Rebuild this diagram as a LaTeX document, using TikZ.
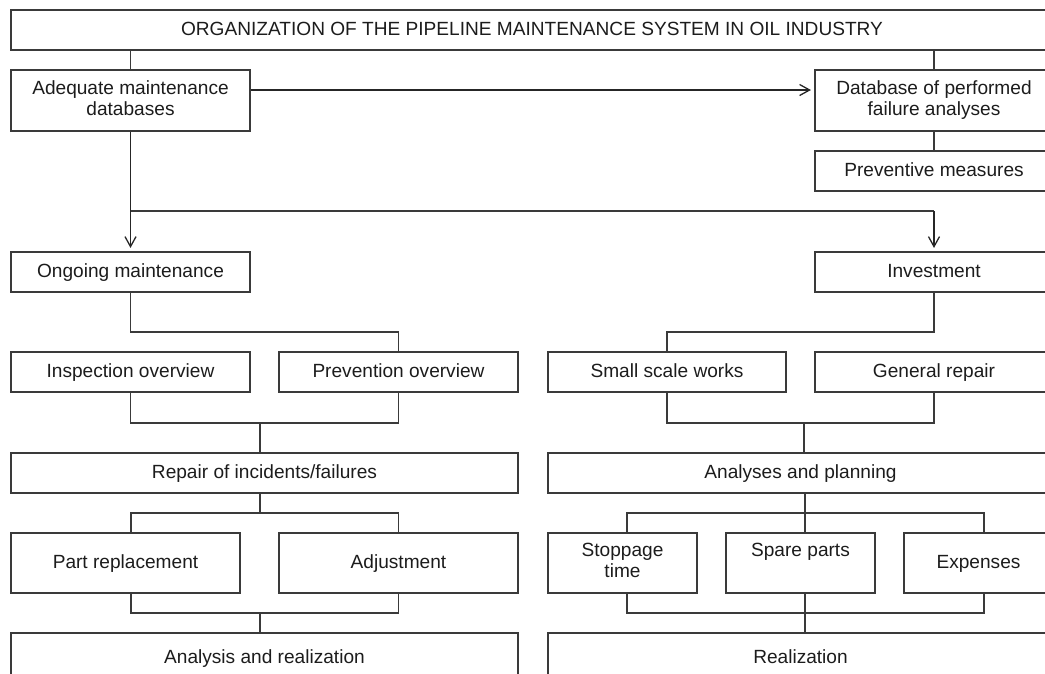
\documentclass[tikz,border=0pt]{standalone}
\usepackage{fontspec}
\setmainfont{Liberation Sans}
\usetikzlibrary{arrows.meta}
\definecolor{linegray}{HTML}{3A3A3A}
\definecolor{txt}{HTML}{1C1C1C}
\newcommand\mystrut{\rule[-5pt]{0pt}{20pt}}
\newcommand\boxfont{\fontsize{19.1}{21}\selectfont\setlength\lineskiplimit{-40pt}\setlength\lineskip{0pt}}
\tikzset{
  box/.style={draw=linegray, line width=1.1pt, rectangle, inner sep=2pt, align=center,
    text=txt, font=\boxfont, execute at begin node=\mystrut},
  conn/.style={draw=linegray, line width=1.1pt},
  arr/.style={draw=black!85, line width=1.3pt, shorten >=3.5pt,
    -{Straight Barb[length=10pt,width=11pt,line width=1.3pt]}}
}
\begin{document}
\begin{tikzpicture}[x=1pt,y=-1pt]
\useasboundingbox (0,0) rectangle (1045,673);
\clip (0,0) rectangle (1045,673);
% boxes
\node[box, minimum width=1042pt, minimum height=40pt] (title) at (532,30) {ORGANIZATION OF THE PIPELINE MAINTENANCE SYSTEM IN OIL INDUSTRY};
\node[box, minimum width=239pt, minimum height=61pt] (adb) at (130.5,100.5) {Adequate maintenance\\\mystrut databases};
\node[box, minimum width=238pt, minimum height=61pt] (dbf) at (934,100.5) {Database of performed\\\mystrut failure analyses};
\node[box, minimum width=238pt, minimum height=40pt] (prev) at (934,171) {Preventive measures};
\node[box, minimum width=239pt, minimum height=40pt] (ong) at (130.5,272) {Ongoing maintenance};
\node[box, minimum width=238pt, minimum height=40pt] (inv) at (934,272) {Investment};
\node[box, minimum width=239pt, minimum height=40pt] (insp) at (130.5,372) {Inspection overview};
\node[box, minimum width=239pt, minimum height=40pt] (preo) at (398.5,372) {Prevention overview};
\node[box, minimum width=238pt, minimum height=40pt] (ssw) at (667,372) {Small scale works};
\node[box, minimum width=238pt, minimum height=40pt] (gen) at (934,372) {General repair};
\node[box, minimum width=507pt, minimum height=40pt] (rep) at (264.5,473) {Repair of incidents/failures};
\node[box, minimum width=505pt, minimum height=40pt] (ana) at (800.5,473) {Analyses and planning};
\node[box, minimum width=229pt, minimum height=60pt] (part) at (125.5,563) {Part replacement};
\node[box, minimum width=239pt, minimum height=60pt] (adj) at (398.5,563) {Adjustment};
\node[box, minimum width=149pt, minimum height=60pt] (stop) at (622.5,563) {Stoppage\\\mystrut time};
\node[box, minimum width=149pt, minimum height=60pt] (spare) at (800.5,563) {Spare parts\\\mystrut};
\node[box, minimum width=149pt, minimum height=60pt] (exp) at (978.5,563) {Expenses};
\node[box, minimum width=507pt, minimum height=50pt] (ar) at (264.5,658) {Analysis and realization};
\node[box, minimum width=505pt, minimum height=50pt] (real) at (800.5,658) {Realization};
% connectors
\draw[conn] (adb.north) -- (adb.north |- title.south);
\draw[conn] (dbf.north) -- (dbf.north |- title.south);
\draw[arr] (adb.east |- 0,90) -- (dbf.west |- 0,90);
\draw[conn] (dbf.south) -- (prev.north);
\draw[arr] (adb.south) -- (ong.north);
\draw[conn] (adb.south |- 0,211) -- (inv.north |- 0,211);
\draw[arr] (inv.north |- 0,211) -- (inv.north);
% ongoing branch
\draw[conn] (ong.south) -- (ong.south |- 0,332) -- (preo.north |- 0,332) -- (preo.north);
\draw[conn] (insp.south) -- (insp.south |- 0,423) -- (preo.south |- 0,423) -- (preo.south);
\draw[conn] (rep.north -| 260,0) -- (260,423);
\draw[conn] (rep.south -| 260,0) -- (260,513);
\draw[conn] (part.north -| 131,0) -- (131,513) -- (adj.north |- 0,513) -- (adj.north);
\draw[conn] (part.south -| 131,0) -- (131,613) -- (adj.south |- 0,613) -- (adj.south);
\draw[conn] (ar.north -| 260,0) -- (260,613);
% investment branch
\draw[conn] (inv.south) -- (inv.south |- 0,332) -- (ssw.north |- 0,332) -- (ssw.north);
\draw[conn] (ssw.south) -- (ssw.south |- 0,423) -- (gen.south |- 0,423) -- (gen.south);
\draw[conn] (ana.north -| 804,0) -- (804,423);
\draw[conn] (ana.south -| 805,0) -- (spare.north -| 805,0);
\draw[conn] (stop.north -| 627,0) -- (627,513) -- (984,513) -- (exp.north -| 984,0);
\draw[conn] (stop.south -| 627,0) -- (627,613) -- (984,613) -- (exp.south -| 984,0);
\draw[conn] (spare.south -| 805,0) -- (real.north -| 805,0);
\end{tikzpicture}
\end{document}
